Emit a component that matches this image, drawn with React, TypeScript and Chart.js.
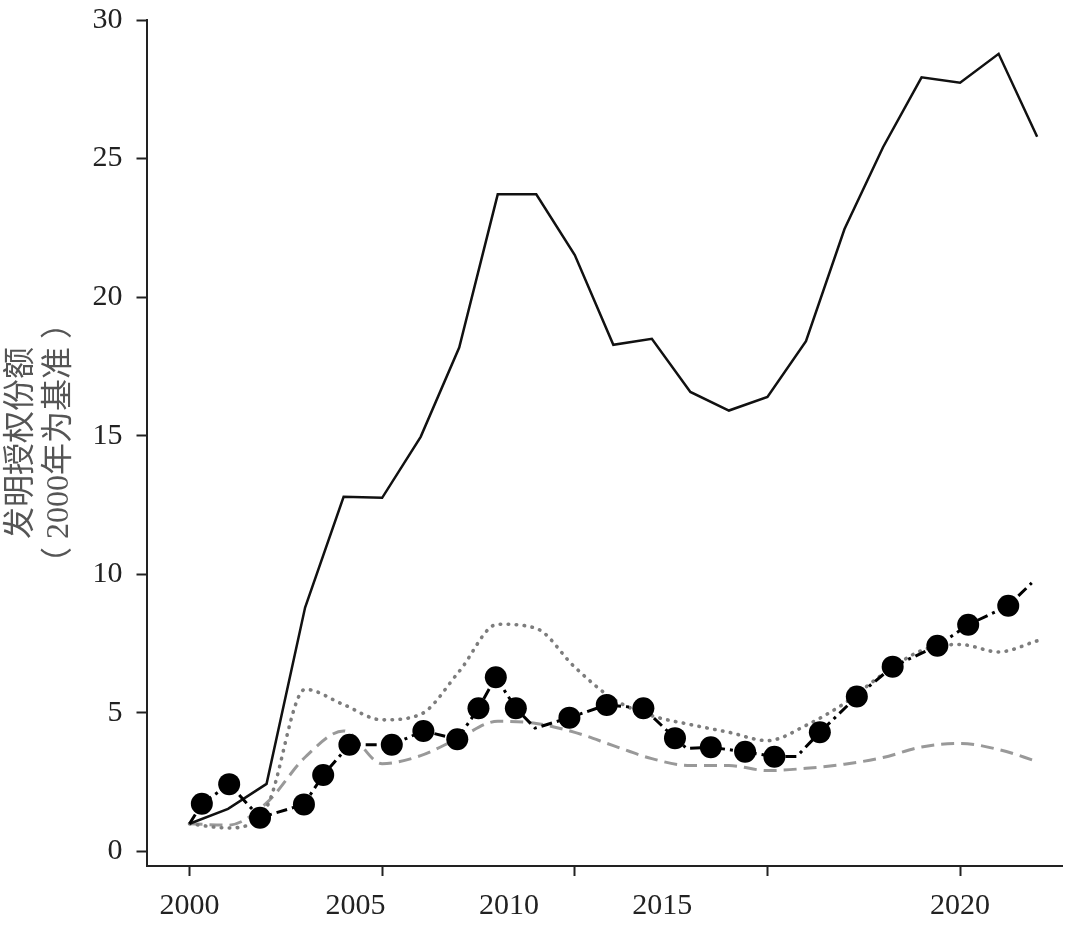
import React, { useEffect, useRef } from 'react';
import { Chart, registerables } from 'chart.js';

Chart.register(...registerables);

// ---- data ----
const years = [2000, 2001, 2002, 2003, 2004, 2005, 2006, 2007, 2008, 2009, 2010, 2011, 2012, 2013, 2014, 2015, 2016, 2017, 2018, 2019, 2020, 2021, 2022];

const solidValues = [1.0, 1.54, 2.44, 8.8, 12.8, 12.76, 14.96, 18.18, 23.71, 23.71, 21.52, 18.28, 18.5, 16.58, 15.91, 16.4, 18.41, 22.46, 25.41, 27.93, 27.74, 28.78, 25.79];
const dottedValues = [1.0, 0.85, 1.6, 5.85, 5.3, 4.75, 4.95, 6.5, 8.2, 8.05, 6.65, 5.5, 4.9, 4.58, 4.3, 4.0, 4.55, 5.35, 6.4, 7.25, 7.47, 7.2, 7.6];
const dashedValues = [1.0, 0.95, 1.75, 3.4, 4.35, 3.17, 3.46, 4.1, 4.7, 4.62, 4.3, 3.82, 3.35, 3.1, 3.1, 2.92, 3.0, 3.15, 3.39, 3.77, 3.9, 3.68, 3.25];

const dashDotYears = [2000, 2000.32, 2001.03, 2001.83, 2002.97, 2003.47, 2004.15, 2005.25, 2006.07, 2006.95, 2007.5, 2007.95, 2008.47, 2008.97, 2009.86, 2010.83, 2011.78, 2012.6, 2012.9, 2013.53, 2014.42, 2015.18, 2015.76, 2016.36, 2017.32, 2018.25, 2019.41, 2020.21, 2021.25, 2021.86];
const dashDotValues = [1.0, 1.72, 2.43, 1.22, 1.7, 2.76, 3.85, 3.85, 4.35, 4.05, 5.17, 6.29, 5.17, 4.45, 4.83, 5.29, 5.17, 4.09, 3.72, 3.76, 3.6, 3.42, 3.43, 4.3, 5.59, 6.67, 7.42, 8.18, 8.87, 9.69];

const markerYears = [2000.32, 2001.03, 2001.83, 2002.97, 2003.47, 2004.15, 2005.25, 2006.07, 2006.95, 2007.5, 2007.95, 2008.47, 2009.86, 2010.83, 2011.78, 2012.6, 2013.53, 2014.42, 2015.18, 2016.36, 2017.32, 2018.25, 2019.41, 2020.21, 2021.25];
const markerValues = [1.72, 2.43, 1.22, 1.7, 2.76, 3.85, 3.85, 4.35, 4.05, 5.17, 6.29, 5.17, 4.83, 5.29, 5.17, 4.09, 3.76, 3.6, 3.42, 4.3, 5.59, 6.67, 7.42, 8.18, 8.87];

const xMarkYears = [2000, 2005, 2010, 2015, 2020];
const xLabelYears = [2000, 2004.31, 2008.29, 2012.27, 2020];
const xLabels = ['2000', '2005', '2010', '2015', '2020'];
const yTickValues = [0, 5, 10, 15, 20, 25, 30];
const yTitle = ['发明授权份额', '（ 2000年为基准 ）'];

const serif = "'Liberation Serif', 'Times New Roman', serif";
const titleFont = "'Liberation Serif', 'Noto Sans CJK SC', serif";

export default function App() {
  const ref = useRef<HTMLCanvasElement>(null);

  useEffect(() => {
    document.body.style.margin = '0';
    const xTickValues = Array.from(new Set([...xMarkYears, ...xLabelYears])).sort((a, b) => a - b);

    const chart = new Chart(ref.current as HTMLCanvasElement, {
      type: 'line',
      data: {
        datasets: [
          {
            label: 'markers',
            data: markerYears.map((x, i) => ({ x, y: markerValues[i] })),
            showLine: false,
            pointRadius: 11,
            pointBackgroundColor: '#000',
            pointBorderColor: '#000',
            pointBorderWidth: 0,
          },
          {
            label: 'dashdot',
            data: dashDotYears.map((x, i) => ({ x, y: dashDotValues[i] })),
            borderColor: '#000',
            borderWidth: 3,
            borderDash: [11, 5, 3, 5],
            pointRadius: 0,
            tension: 0,
          },
          {
            label: 'solid',
            data: years.map((x, i) => ({ x, y: solidValues[i] })),
            borderColor: '#111',
            borderWidth: 2.5,
            pointRadius: 0,
            tension: 0,
          },
          {
            label: 'dotted',
            data: years.map((x, i) => ({ x, y: dottedValues[i] })),
            borderColor: '#7d7d7d',
            borderWidth: 3.6,
            borderDash: [0.5, 7.5],
            borderCapStyle: 'round',
            pointRadius: 0,
            cubicInterpolationMode: 'monotone',
          },
          {
            label: 'dashed',
            data: years.map((x, i) => ({ x, y: dashedValues[i] })),
            borderColor: '#999',
            borderWidth: 3,
            borderDash: [13, 7],
            pointRadius: 0,
            cubicInterpolationMode: 'monotone',
          },
        ],
      },
      options: {
        responsive: false,
        animation: false,
        devicePixelRatio: 1,
        layout: { padding: { top: 20, right: 18, bottom: 0, left: 0 } },
        plugins: { legend: { display: false }, tooltip: { enabled: false } },
        scales: {
          x: {
            type: 'linear',
            min: 1998.884,
            max: 2022.645,
            afterBuildTicks: (s: any) => {
              s.ticks = xTickValues.map((v) => ({ value: v }));
            },
            afterFit: (s: any) => {
              s.height = 59;
              s.paddingLeft = 0;
              s.paddingRight = 0;
            },
            grid: {
              drawOnChartArea: false,
              tickLength: 10,
              tickWidth: 2,
              tickColor: (ctx: any) =>
                ctx.tick && xMarkYears.includes(ctx.tick.value) ? '#222' : 'rgba(0,0,0,0)',
            },
            border: { display: true, color: '#222', width: 2 },
            ticks: {
              autoSkip: false,
              maxRotation: 0,
              padding: 12,
              color: '#222',
              font: { family: serif, size: 30 },
              callback: (v: any) => {
                const i = xLabelYears.indexOf(Number(v));
                return i >= 0 ? xLabels[i] : '';
              },
            },
          },
          y: {
            type: 'linear',
            min: -0.523,
            max: 30,
            afterBuildTicks: (s: any) => {
              s.ticks = yTickValues.map((v) => ({ value: v }));
            },
            afterFit: (s: any) => {
              s.width = 146.5;
              s.paddingTop = 0;
              s.paddingBottom = 0;
            },
            grid: { drawOnChartArea: false, tickLength: 10, tickWidth: 2, tickColor: '#222' },
            border: { display: true, color: '#222', width: 2 },
            ticks: {
              padding: 14,
              color: '#222',
              font: { family: serif, size: 30 },
            },
            title: {
              display: true,
              text: yTitle,
              color: '#555',
              font: { family: titleFont, size: 32, lineHeight: 1.2 },
              padding: { top: 2, bottom: 0 },
            },
          },
        },
      },
    } as any);

    return () => chart.destroy();
  }, []);

  return <canvas ref={ref} width={1080} height={925} style={{ display: 'block' }} />;
}
